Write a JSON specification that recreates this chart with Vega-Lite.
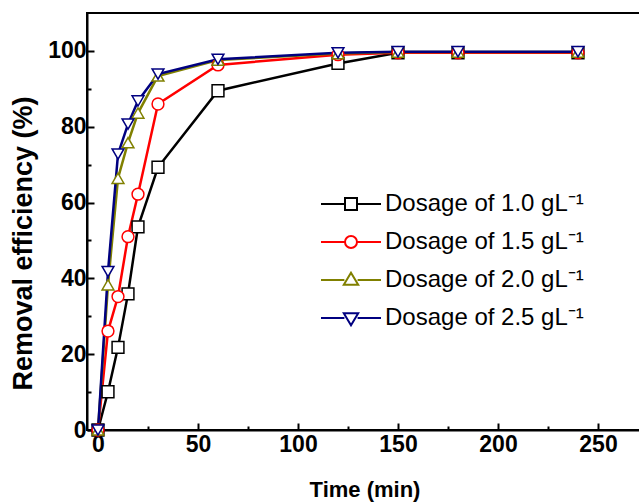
{
  "$schema": "https://vega.github.io/schema/vega-lite/v6.json",
  "width": 555,
  "height": 417,
  "autosize": "none",
  "padding": {"left": 87, "top": 13, "right": 0, "bottom": 73},
  "background": "white",
  "config": {
    "view": {"stroke": "black", "strokeWidth": 2},
    "font": "Liberation Sans",
    "axis": {
      "grid": false,
      "domainColor": "black",
      "domainWidth": 2,
      "tickColor": "black",
      "tickWidth": 2,
      "labelColor": "black",
      "labelFont": "Liberation Sans",
      "labelFontSize": 23,
      "labelFontWeight": "bold",
      "titleColor": "black",
      "titleFont": "Liberation Sans",
      "titleFontWeight": "bold"
    }
  },
  "data": {
    "values": [
      {"dosage": "Dosage of 1.0 gL⁻¹", "t": 0, "e": 0},
      {"dosage": "Dosage of 1.0 gL⁻¹", "t": 5, "e": 10.1},
      {"dosage": "Dosage of 1.0 gL⁻¹", "t": 10, "e": 21.8},
      {"dosage": "Dosage of 1.0 gL⁻¹", "t": 15, "e": 35.9},
      {"dosage": "Dosage of 1.0 gL⁻¹", "t": 20, "e": 53.6},
      {"dosage": "Dosage of 1.0 gL⁻¹", "t": 30, "e": 69.3},
      {"dosage": "Dosage of 1.0 gL⁻¹", "t": 60, "e": 89.5},
      {"dosage": "Dosage of 1.0 gL⁻¹", "t": 120, "e": 96.7},
      {"dosage": "Dosage of 1.0 gL⁻¹", "t": 150, "e": 99.5},
      {"dosage": "Dosage of 1.0 gL⁻¹", "t": 180, "e": 99.5},
      {"dosage": "Dosage of 1.0 gL⁻¹", "t": 240, "e": 99.5},
      {"dosage": "Dosage of 1.5 gL⁻¹", "t": 0, "e": 0},
      {"dosage": "Dosage of 1.5 gL⁻¹", "t": 5, "e": 26.1},
      {"dosage": "Dosage of 1.5 gL⁻¹", "t": 10, "e": 35.2},
      {"dosage": "Dosage of 1.5 gL⁻¹", "t": 15, "e": 51.0},
      {"dosage": "Dosage of 1.5 gL⁻¹", "t": 20, "e": 62.2},
      {"dosage": "Dosage of 1.5 gL⁻¹", "t": 30, "e": 86.0},
      {"dosage": "Dosage of 1.5 gL⁻¹", "t": 60, "e": 96.3},
      {"dosage": "Dosage of 1.5 gL⁻¹", "t": 120, "e": 99.0},
      {"dosage": "Dosage of 1.5 gL⁻¹", "t": 150, "e": 99.5},
      {"dosage": "Dosage of 1.5 gL⁻¹", "t": 180, "e": 99.5},
      {"dosage": "Dosage of 1.5 gL⁻¹", "t": 240, "e": 99.5},
      {"dosage": "Dosage of 2.0 gL⁻¹", "t": 0, "e": 0},
      {"dosage": "Dosage of 2.0 gL⁻¹", "t": 5, "e": 38.3},
      {"dosage": "Dosage of 2.0 gL⁻¹", "t": 10, "e": 66.4},
      {"dosage": "Dosage of 2.0 gL⁻¹", "t": 15, "e": 75.8},
      {"dosage": "Dosage of 2.0 gL⁻¹", "t": 20, "e": 83.6},
      {"dosage": "Dosage of 2.0 gL⁻¹", "t": 30, "e": 93.4},
      {"dosage": "Dosage of 2.0 gL⁻¹", "t": 60, "e": 97.6},
      {"dosage": "Dosage of 2.0 gL⁻¹", "t": 120, "e": 99.3},
      {"dosage": "Dosage of 2.0 gL⁻¹", "t": 150, "e": 99.7},
      {"dosage": "Dosage of 2.0 gL⁻¹", "t": 180, "e": 99.7},
      {"dosage": "Dosage of 2.0 gL⁻¹", "t": 240, "e": 99.7},
      {"dosage": "Dosage of 2.5 gL⁻¹", "t": 0, "e": 0},
      {"dosage": "Dosage of 2.5 gL⁻¹", "t": 5, "e": 41.8},
      {"dosage": "Dosage of 2.5 gL⁻¹", "t": 10, "e": 72.8},
      {"dosage": "Dosage of 2.5 gL⁻¹", "t": 15, "e": 80.7},
      {"dosage": "Dosage of 2.5 gL⁻¹", "t": 20, "e": 86.8},
      {"dosage": "Dosage of 2.5 gL⁻¹", "t": 30, "e": 93.9},
      {"dosage": "Dosage of 2.5 gL⁻¹", "t": 60, "e": 97.8},
      {"dosage": "Dosage of 2.5 gL⁻¹", "t": 120, "e": 99.5},
      {"dosage": "Dosage of 2.5 gL⁻¹", "t": 150, "e": 99.8},
      {"dosage": "Dosage of 2.5 gL⁻¹", "t": 180, "e": 99.8},
      {"dosage": "Dosage of 2.5 gL⁻¹", "t": 240, "e": 99.8}
    ]
  },
  "encoding": {
    "x": {
      "field": "t",
      "type": "quantitative",
      "scale": {"domain": [-5.5, 272], "nice": false, "zero": false},
      "axis": {
        "title": "Time (min)",
        "titleFontSize": 22,
        "values": [0, 25, 50, 75, 100, 125, 150, 175, 200, 225, 250],
        "labelExpr": "datum.value % 50 === 0 ? datum.label : ''",
        "tickSize": {"condition": {"test": "datum.value % 50 === 0", "value": -7}, "value": -4},
        "labelPadding": 10,
        "titlePadding": 20,
        "labelFlush": false,
        "labelOverlap": false
      }
    },
    "y": {
      "field": "e",
      "type": "quantitative",
      "scale": {"domain": [0, 110], "nice": false},
      "axis": {
        "title": "Removal efficiency (%)",
        "titleFontSize": 27,
        "titleX": -50,
        "titleY": 230,
        "values": [0, 10, 20, 30, 40, 50, 60, 70, 80, 90, 100],
        "labelExpr": "datum.value % 20 === 0 ? datum.label : ''",
        "tickSize": {"condition": {"test": "datum.value % 20 === 0", "value": -7}, "value": -4},
        "labelPadding": 8,
        "labelFlush": false,
        "labelOverlap": false
      }
    }
  },
  "layer": [
    {
      "mark": {"type": "line", "strokeWidth": 2.5},
      "encoding": {
        "color": {
          "field": "dosage",
          "type": "nominal",
          "scale": {"domain": ["Dosage of 1.0 gL⁻¹", "Dosage of 1.5 gL⁻¹", "Dosage of 2.0 gL⁻¹", "Dosage of 2.5 gL⁻¹"], "range": ["#000000", "#ff0000", "#808000", "#000080"]},
          "legend": null
        }
      }
    },
    {
      "mark": {"type": "point", "filled": true, "fill": "white", "strokeWidth": 1.5, "size": 140, "opacity": 1},
      "encoding": {
        "stroke": {
          "field": "dosage",
          "type": "nominal",
          "scale": {"domain": ["Dosage of 1.0 gL⁻¹", "Dosage of 1.5 gL⁻¹", "Dosage of 2.0 gL⁻¹", "Dosage of 2.5 gL⁻¹"], "range": ["#000000", "#ff0000", "#808000", "#000080"]},
          "legend": null
        },
        "shape": {
          "field": "dosage",
          "type": "nominal",
          "scale": {"domain": ["Dosage of 1.0 gL⁻¹", "Dosage of 1.5 gL⁻¹", "Dosage of 2.0 gL⁻¹", "Dosage of 2.5 gL⁻¹"], "range": ["square", "circle", "triangle-up", "triangle-down"]},
          "legend": null
        }
      }
    },
    {
      "transform": [{"filter": "datum.t < -100"}],
      "mark": {"type": "point", "filled": true, "fill": "white", "strokeWidth": 2, "size": 900, "opacity": 1},
      "encoding": {
        "stroke": {
          "field": "dosage",
          "type": "nominal",
          "scale": {"domain": ["Dosage of 1.0 gL⁻¹", "Dosage of 1.5 gL⁻¹", "Dosage of 2.0 gL⁻¹", "Dosage of 2.5 gL⁻¹"], "range": ["#000000", "#ff0000", "#808000", "#000080"]},
          "legend": {
            "title": null,
            "orient": "none",
            "legendX": 248,
            "legendY": 175,
            "labelFont": "Liberation Sans",
            "labelFontSize": 24,
            "labelColor": "black",
            "labelLimit": 400,
            "symbolSize": 900,
            "symbolStrokeWidth": 2,
            "symbolFillColor": "white",
            "labelOffset": 18,
            "rowPadding": 10
          }
        },
        "shape": {
          "field": "dosage",
          "type": "nominal",
          "scale": {"domain": ["Dosage of 1.0 gL⁻¹", "Dosage of 1.5 gL⁻¹", "Dosage of 2.0 gL⁻¹", "Dosage of 2.5 gL⁻¹"], "range": [
            "M-2,0H-0.4M0.4,0H2M-0.4,-0.4H0.4V0.4H-0.4Z",
            "M-2,0H-0.4M0.4,0H2M-0.4,0A0.4,0.4 0 1,0 0.4,0A0.4,0.4 0 1,0 -0.4,0Z",
            "M-2,0H-0.44M0.44,0H2M0,-0.48L0.48,0.32H-0.48Z",
            "M-2,0H-0.44M0.44,0H2M0,0.48L0.48,-0.32H-0.48Z"
          ]},
          "legend": {
            "title": null,
            "orient": "none",
            "legendX": 248,
            "legendY": 175,
            "labelFont": "Liberation Sans",
            "labelFontSize": 24,
            "labelColor": "black",
            "labelLimit": 400,
            "symbolSize": 900,
            "symbolStrokeWidth": 2,
            "symbolFillColor": "white",
            "labelOffset": 18,
            "rowPadding": 10
          }
        }
      }
    }
  ],
  "resolve": {"scale": {"shape": "independent", "stroke": "independent"}}
}
